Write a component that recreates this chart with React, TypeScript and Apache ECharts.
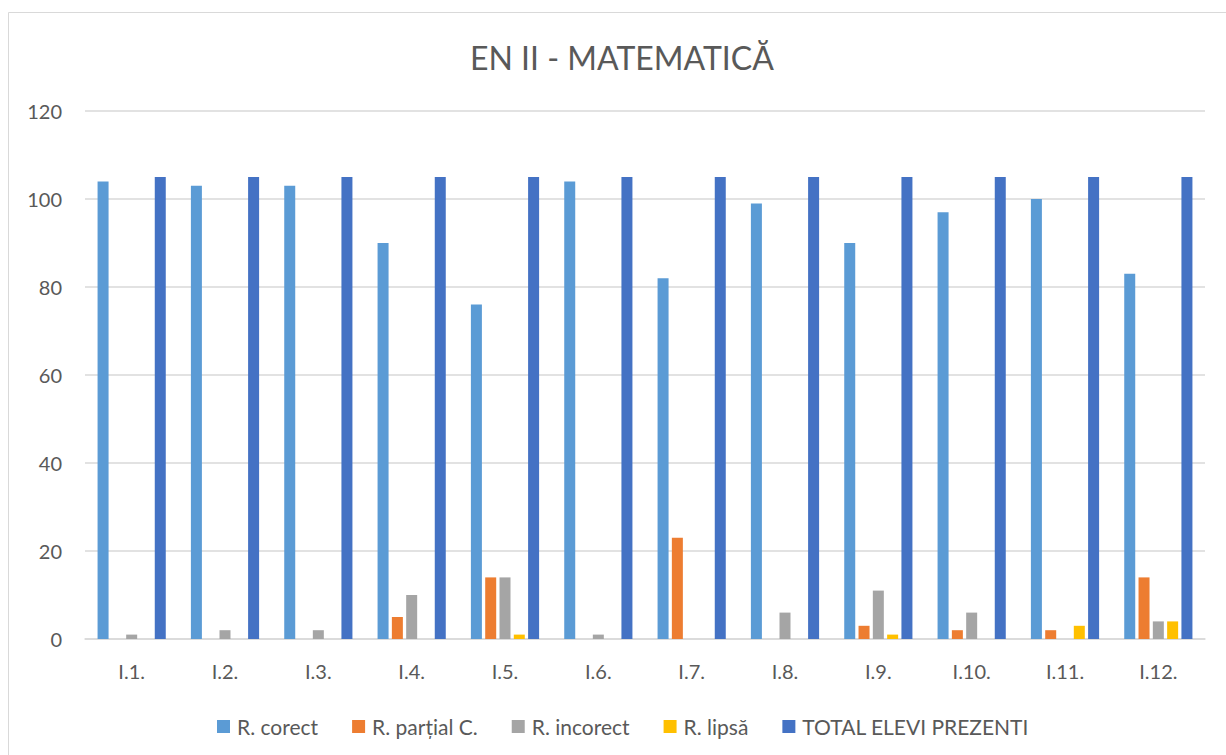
import React, { useEffect, useRef } from "react";
import * as echarts from "echarts";

const categories = ["I.1.", "I.2.", "I.3.", "I.4.", "I.5.", "I.6.", "I.7.", "I.8.", "I.9.", "I.10.", "I.11.", "I.12."];
const rCorect = [104, 103, 103, 90, 76, 104, 82, 99, 90, 97, 100, 83];
const rPartial = [0, 0, 0, 5, 14, 0, 23, 0, 3, 2, 2, 14];
const rIncorect = [1, 2, 2, 10, 14, 1, 0, 6, 11, 6, 0, 4];
const rLipsa = [0, 0, 0, 0, 1, 0, 0, 0, 1, 0, 3, 4];
const totalElevi = [105, 105, 105, 105, 105, 105, 105, 105, 105, 105, 105, 105];
const seriesNames = ["R. corect", "R. parțial C.", "R. incorect", "R. lipsă", "TOTAL ELEVI PREZENTI"];
const seriesColors = ["#5B9BD5", "#ED7D31", "#A5A5A5", "#FFC000", "#4472C4"];
const titleText = "EN II - MATEMATICĂ";

const FONT = "Lato, 'Open Sans', sans-serif";
const TXT = "#595959";

export default function App() {
  const ref = useRef<HTMLDivElement>(null);
  useEffect(() => {
    document.body.style.margin = "0";
    const chart = echarts.init(ref.current!, null, { renderer: "svg" });
    const data = [rCorect, rPartial, rIncorect, rLipsa, totalElevi];
    chart.setOption({
      animation: false,
      backgroundColor: "#ffffff",
      textStyle: { fontFamily: FONT },
      graphic: [
        {
          type: "rect",
          shape: { x: 8.5, y: 12.5, width: 1400, height: 900 },
          style: { fill: "none", stroke: "#d9d9d9", lineWidth: 1 },
          silent: true,
        },
      ],
      title: {
        text: titleText,
        left: 465,
        top: 36,
        textStyle: { fontFamily: FONT, fontSize: 32, fontWeight: "normal", color: TXT },
      },
      legend: {
        data: seriesNames,
        top: 711,
        left: 212,
        itemWidth: 13,
        itemHeight: 13,
        itemGap: 34,
        icon: "rect",
        textStyle: { fontFamily: FONT, fontSize: 21, color: TXT, padding: [0, 0, 0, 2] },
      },
      grid: { left: 85, right: 21, top: 111, bottom: 116, containLabel: false },
      xAxis: {
        type: "category",
        data: categories,
        axisLine: { lineStyle: { color: "#d9d9d9", width: 1.5 } },
        axisTick: { show: false },
        axisLabel: { color: TXT, fontSize: 20, margin: 22, fontFamily: FONT },
      },
      yAxis: {
        type: "value",
        min: 0,
        max: 120,
        interval: 20,
        axisLine: { show: false },
        axisTick: { show: false },
        splitLine: { lineStyle: { color: "#d9d9d9", width: 1.5 } },
        axisLabel: { color: TXT, fontSize: 20, margin: 23, fontFamily: FONT },
      },
      series: seriesNames.map((name, i) => ({
        name,
        type: "bar",
        data: data[i],
        barWidth: 11,
        barGap: "30%",
        itemStyle: { color: seriesColors[i] },
      })),
    });
    return () => chart.dispose();
  }, []);
  return <div ref={ref} style={{ width: 1226, height: 755 }} />;
}
